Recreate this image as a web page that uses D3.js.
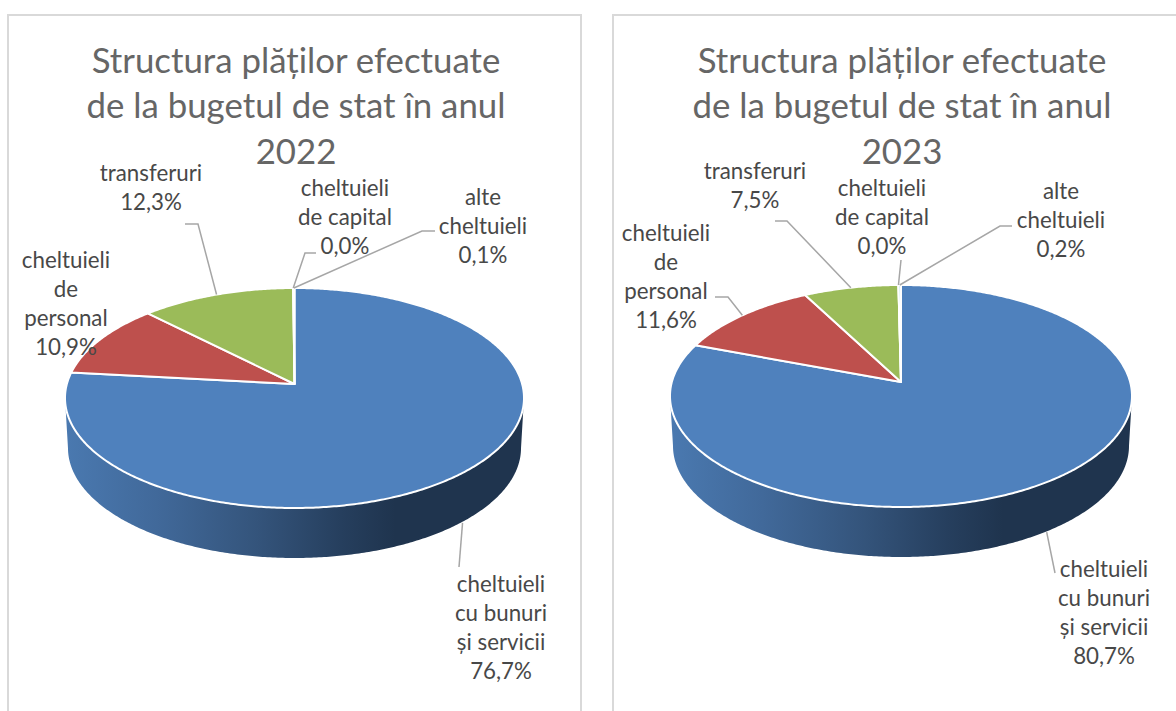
<!DOCTYPE html>
<html>
<head>
<meta charset="utf-8">
<script src="https://cdn.jsdelivr.net/npm/d3@7"></script>
<style>
html, body { margin: 0; padding: 0; background: #fff; overflow: hidden; }
svg { display: block; }
text { font-family: Lato, "Open Sans", sans-serif; text-anchor: middle; dominant-baseline: central; }
</style>
</head>
<body>
<div id="chart"></div>
<script>
// data
var categories = ["cheltuieli cu bunuri și servicii", "cheltuieli de personal", "transferuri", "cheltuieli de capital", "alte cheltuieli"];
var values2022 = [76.7, 10.9, 12.3, 0.0, 0.1];
var values2023 = [80.7, 11.6, 7.5, 0.0, 0.2];
var years = ["2022", "2023"];
var titleLines = ["Structura plăților efectuate", "de la bugetul de stat în anul"];
var colors = ["#4f81bd", "#be504d", "#9bbb59", "#8064a2", "#bfe3ee"];

// how the category names wrap in each chart
var wrap2022 = [["cheltuieli", "cu bunuri", "și servicii"], ["cheltuieli", "de", "personal"], ["transferuri"], ["cheltuieli", "de capital"], ["alte", "cheltuieli"]];
var wrap2023 = [["cheltuieli", "cu bunuri", "și servicii"], ["cheltuieli", "de", "personal"], ["transferuri"], ["cheltuieli", "de capital"], ["alte", "cheltuieli"]];

// layout of the two panels
var charts = [
  { values: values2022, year: years[0], wrap: wrap2022,
    panelX: 8, panelW: 573, titleX: 296,
    apex: [294.5, 384], rx: 229.5, up: 96, down: 124, depth: 50,
    labels: [[501, 583], [66, 259], [151, 172], [345, 187], [483, 196]],
    elbows: [[[459, 567]], [], [[198, 224], [185, 224]], [[305, 253], [316, 253]], [[422, 231], [435, 231]]] },
  { values: values2023, year: years[1], wrap: wrap2023,
    panelX: 613, panelW: 600, titleX: 902,
    apex: [901, 382], rx: 231, up: 97, down: 125, depth: 50,
    labels: [[1104, 568], [666, 232], [755, 170], [882, 187], [1061, 190]],
    elbows: [[[1055, 573]], [[728, 297], [715, 297]], [[787, 221], [775, 221]], [[901, 260]], [[1000, 226], [1012, 226]]] }
];

var lineH = 29;
var svg = d3.select("#chart").append("svg").attr("width", 1176).attr("height", 711);

var defs = svg.append("defs");
var grad = defs.append("linearGradient").attr("id", "sideGrad").attr("x1", 0).attr("x2", 1).attr("y1", 0).attr("y2", 0);
grad.selectAll("stop")
  .data([[0, "#4a79b0"], [0.2, "#41699a"], [0.42, "#34547b"], [0.6, "#263f5e"], [0.72, "#1f344e"], [1, "#1f344e"]])
  .enter().append("stop")
  .attr("offset", function (d) { return d[0]; })
  .attr("stop-color", function (d) { return d[1]; });

var pie = d3.pie().sort(null).value(function (d) { return d; });
var line = d3.line();

charts.forEach(function (c) {
  var g = svg.append("g");

  g.append("rect")
    .attr("x", c.panelX).attr("y", 15)
    .attr("width", c.panelW).attr("height", 760)
    .attr("fill", "#fff").attr("stroke", "#d9d9d9").attr("stroke-width", 2);

  // the tilted disc is a circle seen in perspective, so the apex is off the ellipse centre
  var k = (c.down - c.up) / (c.down + c.up);
  var ry = c.up * (1 + k);
  var r = c.rx * Math.sqrt(1 - k * k);
  function project(a) {
    var w = 1 + k * Math.cos(a);
    return [c.apex[0] + r * Math.sin(a) / w, c.apex[1] - ry * Math.cos(a) / w];
  }
  function arcPoints(a0, a1) {
    var n = Math.max(2, Math.ceil(Math.abs(a1 - a0) / 0.01));
    return d3.range(n + 1).map(function (i) { return project(a0 + (a1 - a0) * i / n); });
  }

  // side of the disc, from the widest right point round the bottom to the widest left point
  var aRight = Math.PI / 2 + Math.asin(k), aLeft = 2 * Math.PI - aRight;
  var front = arcPoints(aRight, aLeft);
  var cx = (d3.min(front, function (p) { return p[0]; }) + d3.max(front, function (p) { return p[0]; })) / 2;
  var lower = front.slice().reverse().map(function (p) {
    return [cx + (p[0] - cx) * 0.987, p[1] + c.depth];
  });
  g.append("path")
    .attr("d", line(front.concat(lower)) + "Z")
    .attr("fill", "url(#sideGrad)");

  // top face
  var arcs = pie(c.values);
  g.selectAll("path.slice").data(arcs).enter().append("path")
    .attr("class", "slice")
    .attr("d", function (d) {
      return line([c.apex].concat(arcPoints(d.startAngle, d.endAngle))) + "Z";
    })
    .attr("fill", function (d, i) { return colors[i]; })
    .attr("stroke", "#fff").attr("stroke-width", 2).attr("stroke-linejoin", "round");

  // leader lines
  g.selectAll("path.leader").data(arcs).enter().append("path")
    .attr("class", "leader")
    .attr("d", function (d, i) {
      var p = project((d.startAngle + d.endAngle) / 2);
      if (i === 0) p = [p[0], p[1] + c.depth];
      return c.elbows[i].length ? line([p].concat(c.elbows[i])) : null;
    })
    .attr("fill", "none").attr("stroke", "#a6a6a6").attr("stroke-width", 1.5);

  // labels
  arcs.forEach(function (d, i) {
    var lines = c.wrap[i].concat([d3.format(".1f")(d.data).replace(".", ",") + "%"]);
    var t = g.append("text").attr("fill", "#484848").attr("font-size", 22.3);
    lines.forEach(function (s, j) {
      t.append("tspan")
        .attr("x", c.labels[i][0])
        .attr("y", c.labels[i][1] + j * lineH)
        .text(s);
    });
  });

  // title
  titleLines.concat([c.year]).forEach(function (s, j) {
    g.append("text")
      .attr("x", c.titleX).attr("y", 59 + j * 45.5)
      .attr("fill", "#666").attr("font-size", 34.8)
      .text(s);
  });
});
</script>
</body>
</html>
